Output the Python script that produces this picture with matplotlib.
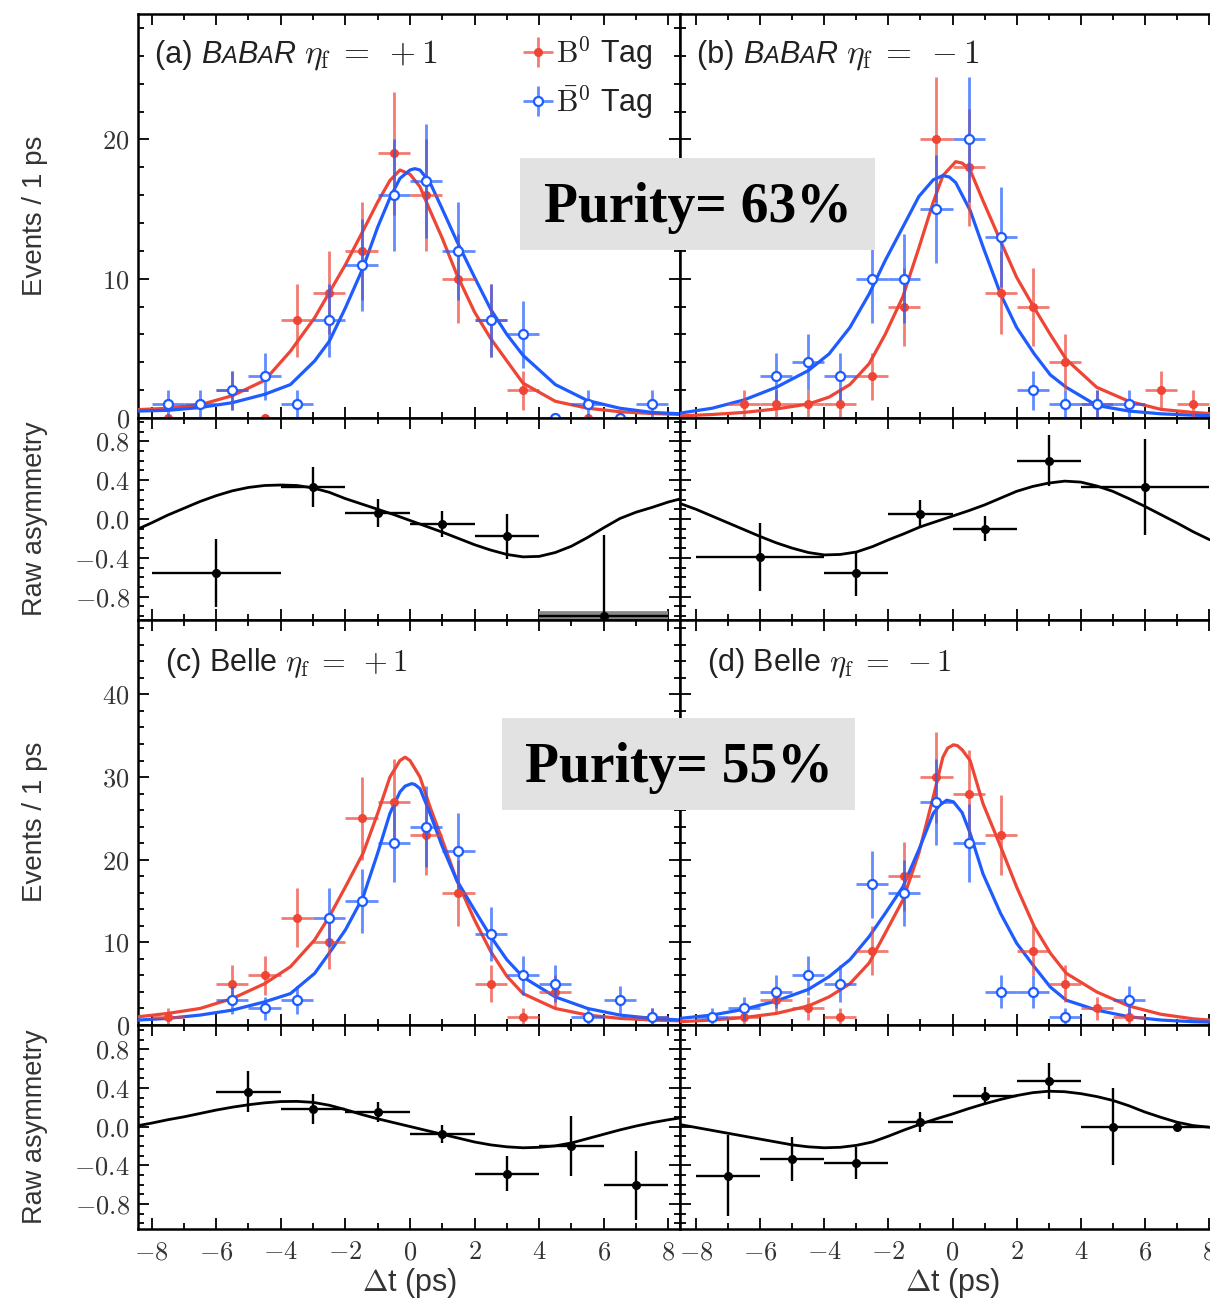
import matplotlib
matplotlib.use("Agg")
import matplotlib.pyplot as plt
from matplotlib import transforms
from matplotlib.patches import Rectangle
from matplotlib.ticker import MultipleLocator, FuncFormatter

plt.rcParams['font.family'] = ['Liberation Sans', 'DejaVu Sans']
plt.rcParams['mathtext.fontset'] = 'cm'

RED = '#ee4535'
BLUE = '#1f5cff'
RED_BAR = (0.93, 0.27, 0.21, 0.7)
BLUE_BAR = (0.12, 0.36, 1.0, 0.7)

# ---------------- BABAR eta_f = +1 ----------------
a_red_t = [-7.5, -5.5, -4.5, -3.5, -2.5, -1.5, -0.5, 0.5, 1.5, 2.5, 3.5, 5.5]
a_red_n = [0, 2, 0, 7, 9, 12, 19, 16, 10, 7, 2, 0]
a_red_err = [0, 1.4, 0, 2.6, 3.0, 3.5, 4.4, 4.0, 3.2, 2.6, 1.4, 0]
a_blue_t = [-7.5, -6.5, -5.5, -4.5, -3.5, -2.5, -1.5, -0.5, 0.5, 1.5, 2.5, 3.5, 4.5, 5.5, 6.5, 7.5]
a_blue_n = [1, 1, 2, 3, 1, 7, 11, 16, 17, 12, 7, 6, 0, 1, 0, 1]
a_blue_err = [1.0, 1.0, 1.4, 1.7, 1.0, 2.6, 3.3, 4.0, 4.1, 3.5, 2.6, 2.4, 0, 1.0, 0, 1.0]
a_red_fit_t = [-8.4, -7.5, -6.5, -5.5, -4.5, -3.7, -2.95, -2.5, -2.0, -1.45, -1.0, -0.62, -0.31,
               0.0, 0.31, 0.62, 1.0, 1.45, 2.0, 2.5, 3.0, 3.5, 4.5, 5.5, 6.5, 7.5, 8.4]
a_red_fit = [0.6, 0.7, 0.95, 1.6, 2.7, 4.8, 7.2, 9.0, 11.0, 13.45, 15.5, 17.05, 17.8,
             17.5, 16.6, 14.9, 12.9, 10.3, 7.6, 5.7, 4.1, 2.5, 1.2, 0.7, 0.45, 0.32, 0.25]
a_blue_fit_t = [-8.4, -7.5, -6.5, -5.5, -4.5, -3.7, -2.95, -2.5, -2.0, -1.45, -1.0, -0.62, -0.31,
                0.0, 0.15, 0.31, 0.62, 1.0, 1.45, 2.0, 2.5, 3.0, 3.5, 4.5, 5.5, 6.5, 7.5, 8.4]
a_blue_fit = [0.5, 0.55, 0.75, 1.1, 1.7, 2.4, 4.1, 5.5, 7.9, 10.8, 13.7, 15.8, 17.2,
              17.8, 17.9, 17.8, 16.9, 15.0, 12.7, 10.1, 7.8, 6.0, 4.5, 2.4, 1.25, 0.7, 0.4, 0.3]
a_asym_t = [-6, -3, -1, 1, 3, 6]
a_asym = [-0.56, 0.33, 0.06, -0.05, -0.18, -1.0]
a_asym_xerr = [2, 1, 1, 1, 1, 2]
a_asym_yerr = [0.35, 0.21, 0.145, 0.135, 0.23, 0.84]
a_asym_fit_t = [-8.4, -8.0, -7.5, -7.0, -6.5, -6.0, -5.5, -5.0, -4.5, -4.0, -3.5, -3.0, -2.5,
                -2.0, -1.5, -1.0, -0.5, 0.0, 0.5, 1.0, 1.5, 2.0, 2.5, 3.0, 3.5, 4.0, 4.5,
                5.0, 5.5, 6.0, 6.5, 7.0, 7.5, 8.0, 8.4]
a_asym_fit = [-0.10, -0.04, 0.04, 0.11, 0.18, 0.24, 0.29, 0.325, 0.345, 0.35, 0.345, 0.32, 0.275,
              0.21, 0.155, 0.10, 0.045, -0.015, -0.075, -0.135, -0.20, -0.265, -0.32, -0.365, -0.39,
              -0.385, -0.345, -0.28, -0.19, -0.09, 0.005, 0.07, 0.12, 0.175, 0.21]

# ---------------- BABAR eta_f = -1 ----------------
b_red_t = [-6.5, -5.5, -4.5, -3.5, -2.5, -1.5, -0.5, 0.5, 1.5, 2.5, 3.5, 4.5, 6.5, 7.5]
b_red_n = [1, 1, 1, 1, 3, 8, 20, 18, 9, 8, 4, 1, 2, 1]
b_red_err = [1.0, 1.0, 1.0, 1.0, 1.7, 2.8, 4.5, 4.2, 3.0, 2.8, 2.0, 1.0, 1.4, 1.0]
b_blue_t = [-5.5, -4.5, -3.5, -2.5, -1.5, -0.5, 0.5, 1.5, 2.5, 3.5, 4.5, 5.5]
b_blue_n = [3, 4, 3, 10, 10, 15, 20, 13, 2, 1, 1, 1]
b_blue_err = [1.7, 2.0, 1.7, 3.2, 3.2, 3.9, 4.5, 3.6, 1.4, 1.0, 1.0, 1.0]
b_red_fit_t = [-8.5, -7.5, -6.5, -5.5, -4.5, -3.85, -3.2, -2.6, -2.1, -1.55, -1.05, -0.6, -0.3,
               0.1, 0.3, 0.55, 0.95, 1.5, 2.0, 2.55, 3.05, 3.55, 4.5, 5.5, 6.5, 7.5, 8.5]
b_red_fit = [0.15, 0.25, 0.4, 0.65, 1.0, 1.5, 2.4, 3.9, 6.0, 8.7, 12.2, 15.5, 17.4,
             18.4, 18.3, 17.8, 15.6, 12.7, 10.1, 7.9, 6.0, 4.2, 2.2, 1.2, 0.62, 0.4, 0.25]
b_blue_fit_t = [-8.5, -7.5, -6.5, -5.5, -4.5, -3.85, -3.2, -2.6, -2.1, -1.55, -1.05, -0.6, -0.3,
                -0.1, 0.1, 0.55, 0.95, 1.5, 2.0, 2.55, 3.05, 3.55, 4.5, 5.5, 6.5, 7.5, 8.5]
b_blue_fit = [0.35, 0.7, 1.3, 2.2, 3.4, 4.6, 6.5, 8.9, 11.3, 13.7, 15.9, 17.1, 17.4,
              17.3, 16.9, 14.9, 12.3, 8.9, 6.5, 4.6, 3.1, 2.2, 0.9, 0.5, 0.3, 0.2, 0.15]
b_asym_t = [-6, -3, -1, 1, 3, 6]
b_asym = [-0.39, -0.56, 0.05, -0.10, 0.60, 0.33]
b_asym_xerr = [2, 1, 1, 1, 1, 2]
b_asym_yerr = [0.35, 0.23, 0.145, 0.13, 0.26, 0.49]
b_asym_fit_t = [-8.5, -8.0, -7.5, -7.0, -6.5, -6.0, -5.5, -5.0, -4.5, -4.0, -3.5, -3.0, -2.5,
                -2.0, -1.5, -1.0, -0.5, 0.0, 0.5, 1.0, 1.5, 2.0, 2.5, 3.0, 3.5, 4.0, 4.5,
                5.0, 5.5, 6.0, 6.5, 7.0, 7.5, 8.0, 8.5]
b_asym_fit = [0.16, 0.10, 0.03, -0.04, -0.11, -0.18, -0.245, -0.30, -0.345, -0.37, -0.365, -0.34,
              -0.285, -0.215, -0.15, -0.08, -0.025, 0.03, 0.085, 0.145, 0.215, 0.285, 0.335, 0.37,
              0.39, 0.38, 0.34, 0.285, 0.21, 0.13, 0.045, -0.04, -0.13, -0.21, -0.27]

# ---------------- Belle eta_f = +1 ----------------
c_red_t = [-7.5, -5.5, -4.5, -3.5, -2.5, -1.5, -0.5, 0.5, 1.5, 2.5, 3.5, 4.5, 7.5]
c_red_n = [1, 5, 6, 13, 10, 25, 27, 23, 16, 5, 1, 4, 1]
c_red_err = [1.0, 2.2, 2.4, 3.6, 3.2, 5.0, 5.2, 4.8, 4.0, 2.2, 1.0, 2.0, 1.0]
c_blue_t = [-5.5, -4.5, -3.5, -2.5, -1.5, -0.5, 0.5, 1.5, 2.5, 3.5, 4.5, 5.5, 6.5, 7.5]
c_blue_n = [3, 2, 3, 13, 15, 22, 24, 21, 11, 6, 5, 1, 3, 1]
c_blue_err = [1.7, 1.4, 1.7, 3.6, 3.9, 4.7, 4.9, 4.6, 3.3, 2.4, 2.2, 1.0, 1.7, 1.0]
c_red_fit_t = [-8.4, -7.5, -6.5, -5.5, -4.5, -3.7, -2.95, -2.5, -2.0, -1.45, -1.0, -0.62, -0.31,
               -0.15, 0.0, 0.31, 0.62, 1.0, 1.45, 2.0, 2.5, 3.0, 3.5, 4.5, 5.5, 6.5, 7.5, 8.4]
c_red_fit = [1.0, 1.4, 2.0, 3.2, 5.0, 7.05, 10.3, 13.1, 16.7, 20.8, 25.6, 30.0, 32.0,
             32.4, 32.0, 30.0, 26.4, 22.4, 17.5, 12.7, 8.9, 5.9, 3.8, 2.0, 1.2, 0.8, 0.6, 0.5]
c_blue_fit_t = [-8.4, -7.5, -6.5, -5.5, -4.5, -3.7, -2.95, -2.5, -2.0, -1.45, -1.0, -0.62, -0.31,
                -0.15, 0.05, 0.15, 0.31, 0.62, 1.0, 1.45, 2.0, 2.5, 3.0, 3.5, 4.5, 5.5, 6.5, 7.5, 8.4]
c_blue_fit = [0.6, 0.8, 1.2, 1.8, 2.8, 3.8, 6.25, 8.7, 11.5, 15.5, 20.8, 25.6, 28.2,
              28.9, 29.2, 29.1, 28.6, 25.6, 21.6, 17.5, 13.9, 10.7, 7.9, 5.8, 3.4, 2.0, 1.2, 0.8, 0.6]
c_asym_t = [-5, -3, -1, 1, 3, 5, 7]
c_asym = [0.36, 0.18, 0.15, -0.08, -0.49, -0.20, -0.61]
c_asym_xerr = [1, 1, 1, 1, 1, 1, 1]
c_asym_yerr = [0.215, 0.155, 0.10, 0.095, 0.18, 0.31, 0.36]
c_asym_fit_t = [-8.4, -8.0, -7.5, -7.0, -6.5, -6.0, -5.5, -5.0, -4.5, -4.0, -3.5, -3.0, -2.5,
                -2.0, -1.5, -1.0, -0.5, 0.0, 0.5, 1.0, 1.5, 2.0, 2.5, 3.0, 3.5, 4.0, 4.5,
                5.0, 5.5, 6.0, 6.5, 7.0, 7.5, 8.0, 8.4]
c_asym_fit = [0.01, 0.035, 0.07, 0.10, 0.135, 0.17, 0.20, 0.225, 0.245, 0.258, 0.26, 0.25, 0.22,
              0.175, 0.125, 0.08, 0.04, 0.0, -0.04, -0.08, -0.12, -0.16, -0.19, -0.21, -0.22,
              -0.215, -0.20, -0.17, -0.125, -0.08, -0.035, 0.005, 0.04, 0.07, 0.09]

# ---------------- Belle eta_f = -1 ----------------
d_red_t = [-6.5, -5.5, -4.5, -3.5, -2.5, -1.5, -0.5, 0.5, 1.5, 2.5, 3.5, 4.5, 5.5]
d_red_n = [1, 3, 2, 1, 9, 18, 30, 28, 23, 9, 5, 2, 1]
d_red_err = [1.0, 1.7, 1.4, 1.0, 3.0, 4.2, 5.5, 5.3, 4.8, 3.0, 2.2, 1.4, 1.0]
d_blue_t = [-7.5, -6.5, -5.5, -4.5, -3.5, -2.5, -1.5, -0.5, 0.5, 1.5, 2.5, 3.5, 5.5]
d_blue_n = [1, 2, 4, 6, 5, 17, 16, 27, 22, 4, 4, 1, 3]
d_blue_err = [1.0, 1.4, 2.0, 2.4, 2.2, 4.1, 4.0, 5.2, 4.7, 2.0, 2.0, 1.0, 1.7]
d_red_fit_t = [-8.5, -7.5, -6.5, -5.5, -4.5, -3.85, -3.2, -2.6, -2.1, -1.55, -1.05, -0.6, -0.3,
               -0.15, 0.03, 0.15, 0.3, 0.55, 0.95, 1.5, 2.0, 2.55, 3.05, 3.55, 4.5, 5.5, 6.5, 7.5, 8.5]
d_red_fit = [0.4, 0.6, 0.9, 1.4, 2.3, 3.4, 5.0, 7.5, 11.1, 15.1, 20.8, 27.6, 32.4,
             33.5, 33.9, 33.8, 33.3, 32.0, 26.8, 21.6, 16.7, 11.9, 8.7, 6.25, 4.0, 2.3, 1.3, 0.75, 0.45]
d_blue_fit_t = [-8.5, -7.5, -6.5, -5.5, -4.5, -3.85, -3.2, -2.6, -2.1, -1.55, -1.05, -0.6, -0.4,
                -0.18, 0.03, 0.3, 0.55, 0.95, 1.5, 2.0, 2.55, 3.05, 3.55, 4.5, 5.5, 6.5, 7.5, 8.5]
d_blue_fit = [0.8, 1.2, 1.9, 2.9, 4.3, 5.85, 7.9, 10.7, 13.5, 16.7, 21.2, 25.6, 26.6,
              27.2, 27.0, 25.7, 23.2, 18.3, 13.5, 9.9, 7.05, 4.6, 3.0, 1.8, 1.0, 0.6, 0.4, 0.3]
d_asym_t = [-7, -5, -3, -1, 1, 3, 5, 7]
d_asym = [-0.51, -0.335, -0.38, 0.045, 0.32, 0.47, 0.0, 0.0]
d_asym_xerr = [1, 1, 1, 1, 1, 1, 1, 1]
d_asym_yerr = [0.42, 0.23, 0.165, 0.10, 0.09, 0.19, 0.40, 0.0]
d_asym_fit_t = [-8.5, -8.0, -7.5, -7.0, -6.5, -6.0, -5.5, -5.0, -4.5, -4.0, -3.5, -3.0, -2.5,
                -2.0, -1.5, -1.0, -0.5, 0.0, 0.5, 1.0, 1.5, 2.0, 2.5, 3.0, 3.5, 4.0, 4.5,
                5.0, 5.5, 6.0, 6.5, 7.0, 7.5, 8.0, 8.5]
d_asym_fit = [0.02, -0.01, -0.04, -0.07, -0.10, -0.13, -0.16, -0.19, -0.21, -0.22, -0.215, -0.195,
              -0.16, -0.10, -0.035, 0.025, 0.08, 0.13, 0.185, 0.235, 0.28, 0.32, 0.35, 0.365,
              0.36, 0.34, 0.31, 0.27, 0.215, 0.15, 0.095, 0.045, 0.01, -0.007, -0.03]

W, H = 1210, 1300
fig = plt.figure(figsize=(W / 100, H / 100), dpi=100)
fig.patch.set_facecolor('white')


def box(x0, y0, x1, y1):
    # pixel box (top-left origin) -> figure fraction rect
    return [x0 / W, 1 - y1 / H, (x1 - x0) / W, (y1 - y0) / H]


LEFT_X = (138, 680)
RIGHT_X = (680, 1225)
ax_a = fig.add_axes(box(LEFT_X[0], 14, LEFT_X[1], 418))
ax_b = fig.add_axes(box(RIGHT_X[0], 14, RIGHT_X[1], 418))
ax_ar = fig.add_axes(box(LEFT_X[0], 418, LEFT_X[1], 620))
ax_br = fig.add_axes(box(RIGHT_X[0], 418, RIGHT_X[1], 620))
ax_c = fig.add_axes(box(LEFT_X[0], 620, LEFT_X[1], 1025))
ax_d = fig.add_axes(box(RIGHT_X[0], 620, RIGHT_X[1], 1025))
ax_cr = fig.add_axes(box(LEFT_X[0], 1025, LEFT_X[1], 1229))
ax_dr = fig.add_axes(box(RIGHT_X[0], 1025, RIGHT_X[1], 1229))

XLIM_L = (-8.42, 8.36)
XLIM_R = (-8.5, 8.5)

num_fmt = FuncFormatter(lambda v, p: r'$%g$' % v)
asym_fmt = FuncFormatter(lambda v, p: r'$%.1f$' % (0.0 if abs(v) < 1e-9 else v))


def style(ax, xlim, ylim, ymaj, ymin, fmt, ylabels, xlabels):
    ax.set_xlim(*xlim)
    ax.set_ylim(*ylim)
    ax.xaxis.set_major_locator(MultipleLocator(2))
    ax.xaxis.set_minor_locator(MultipleLocator(1))
    ax.yaxis.set_major_locator(MultipleLocator(ymaj))
    ax.yaxis.set_minor_locator(MultipleLocator(ymin))
    ax.yaxis.set_major_formatter(fmt)
    ax.xaxis.set_major_formatter(num_fmt)
    ax.tick_params(which='both', direction='in', top=True, right=True, width=1.3,
                   labelsize=19, labelleft=ylabels, labelbottom=xlabels,
                   labelcolor='#333333')
    ax.tick_params(which='major', length=8)
    ax.tick_params(which='minor', length=4.5)
    ax.tick_params(axis='y', pad=6)
    ax.tick_params(axis='x', pad=8)
    for s in ax.spines.values():
        s.set_linewidth(1.8)


def draw_events(ax, rt, rn, re, bt, bn, be, rft, rf, bft, bf):
    ax.plot(rft, rf, color=RED, lw=2.3, zorder=3)
    ax.plot(bft, bf, color=BLUE, lw=2.3, zorder=3)
    hr = ax.errorbar(rt, rn, yerr=re, xerr=0.5, fmt='o', ms=5.5, color=RED, mec=RED,
                     ecolor=RED_BAR, elinewidth=2.0, capsize=0, zorder=4)
    hb = ax.errorbar(bt, bn, yerr=be, xerr=0.5, fmt='o', ms=6.5, mfc='white', mec=BLUE,
                     mew=1.6, ecolor=BLUE_BAR, elinewidth=2.0, capsize=0, zorder=5)
    return hr, hb


def draw_asym(ax, t, v, xe, ye, ft, f):
    ax.plot(ft, f, color='black', lw=2.0, zorder=3)
    # a point sitting on the floor of the range gets its bin width drawn as a grey band
    floor = [i for i in range(len(v)) if v[i] <= -0.99]
    for i in floor:
        ax.errorbar([t[i]], [v[i]], xerr=[xe[i]], fmt='none', ecolor='#888888',
                    elinewidth=7, capsize=0, zorder=2)
    ax.errorbar(t, v, xerr=xe, yerr=ye, fmt='o', ms=5.5, color='black',
                elinewidth=1.7, capsize=0, zorder=4)


hr, hb = draw_events(ax_a, a_red_t, a_red_n, a_red_err, a_blue_t, a_blue_n, a_blue_err,
                     a_red_fit_t, a_red_fit, a_blue_fit_t, a_blue_fit)
draw_events(ax_b, b_red_t, b_red_n, b_red_err, b_blue_t, b_blue_n, b_blue_err,
            b_red_fit_t, b_red_fit, b_blue_fit_t, b_blue_fit)
draw_events(ax_c, c_red_t, c_red_n, c_red_err, c_blue_t, c_blue_n, c_blue_err,
            c_red_fit_t, c_red_fit, c_blue_fit_t, c_blue_fit)
draw_events(ax_d, d_red_t, d_red_n, d_red_err, d_blue_t, d_blue_n, d_blue_err,
            d_red_fit_t, d_red_fit, d_blue_fit_t, d_blue_fit)

draw_asym(ax_ar, a_asym_t, a_asym, a_asym_xerr, a_asym_yerr, a_asym_fit_t, a_asym_fit)
draw_asym(ax_br, b_asym_t, b_asym, b_asym_xerr, b_asym_yerr, b_asym_fit_t, b_asym_fit)
draw_asym(ax_cr, c_asym_t, c_asym, c_asym_xerr, c_asym_yerr, c_asym_fit_t, c_asym_fit)
draw_asym(ax_dr, d_asym_t, d_asym, d_asym_xerr, d_asym_yerr, d_asym_fit_t, d_asym_fit)

style(ax_a, XLIM_L, (0, 29), 10, 2, num_fmt, True, False)
style(ax_b, XLIM_R, (0, 29), 10, 2, num_fmt, False, False)
style(ax_ar, XLIM_L, (-1.04, 1.04), 0.4, 0.1, asym_fmt, True, False)
style(ax_br, XLIM_R, (-1.04, 1.04), 0.4, 0.1, asym_fmt, False, False)
style(ax_c, XLIM_L, (0, 49), 10, 2, num_fmt, True, False)
style(ax_d, XLIM_R, (0, 49), 10, 2, num_fmt, False, False)
style(ax_cr, XLIM_L, (-1.06, 1.05), 0.4, 0.1, asym_fmt, True, True)
style(ax_dr, XLIM_R, (-1.06, 1.05), 0.4, 0.1, asym_fmt, False, True)

# axis titles
for yc, txt, fs in [(216, 'Events / 1 ps', 20), (519, 'Raw asymmetry', 19.5),
                    (822, 'Events / 1 ps', 20), (1127, 'Raw asymmetry', 19.5)]:
    fig.text(35 / W, 1 - yc / H, txt, rotation=90, ha='center', va='center',
             fontsize=fs, color='#333333')
for xc in (410, 953):
    fig.text(xc / W, 1 - 1283 / H, r'$\Delta$t (ps)', ha='center', va='center',
             fontsize=22, color='#333333')

# panel captions; the BABAR name is set with small-cap A's
renderer = fig.canvas.get_renderer()


def chain_text(ax, x, y, pieces):
    tr = ax.transAxes
    for s, kw in pieces:
        t = ax.text(x, y, s, transform=tr, ha='left', va='baseline', color='#222222', **kw)
        w = t.get_window_extent(renderer).width
        tr = transforms.offset_copy(t.get_transform(), x=w, units='dots')


def babar_caption(ax, x, y, tag, eta):
    big = dict(fontsize=22, style='italic')
    small = dict(fontsize=17, style='italic')
    chain_text(ax, x, y, [(tag + ' ', dict(fontsize=22)),
                          ('B', big), ('A', small), ('B', big), ('A', small), ('R', big),
                          (' ', dict(fontsize=22)),
                          (r'$\eta_{\rm f}\;=\;%s1$' % eta, dict(fontsize=24))])


babar_caption(ax_a, 0.031, 0.879, '(a)', '+')
babar_caption(ax_b, 0.031, 0.879, '(b)', '-')
ax_c.text(0.05, 0.874, r'(c) Belle $\eta_{\rm f}\;=\;+1$', transform=ax_c.transAxes,
          fontsize=22, va='baseline', color='#222222')
ax_d.text(0.05, 0.874, r'(d) Belle $\eta_{\rm f}\;=\;-1$', transform=ax_d.transAxes,
          fontsize=22, va='baseline', color='#222222')

ax_a.legend([hr, hb], [r'$\mathrm{B}^0$ Tag', r'$\bar{\mathrm{B}}^0$ Tag'],
            loc='upper right', bbox_to_anchor=(0.950, 0.950), frameon=False,
            fontsize=22, handlelength=0.8, handletextpad=0.2, labelspacing=0.35,
            borderpad=0, borderaxespad=0, labelcolor='#222222')

# purity boxes
for (x0, y0, x1, y1), txt in [((520, 158, 875, 250), 'Purity= 63%'),
                              ((502, 718, 855, 810), 'Purity= 55%')]:
    fig.add_artist(Rectangle((x0 / W, 1 - y1 / H), (x1 - x0) / W, (y1 - y0) / H,
                             transform=fig.transFigure, facecolor='#e2e2e2',
                             edgecolor='none', zorder=10))
    fig.text((x0 + x1) / 2 / W, 1 - ((y0 + y1) / 2 + 4) / H, txt, ha='center', va='center',
             fontsize=40, fontweight='bold', family='Liberation Serif', zorder=11)

fig.savefig('out.png', dpi=100)
